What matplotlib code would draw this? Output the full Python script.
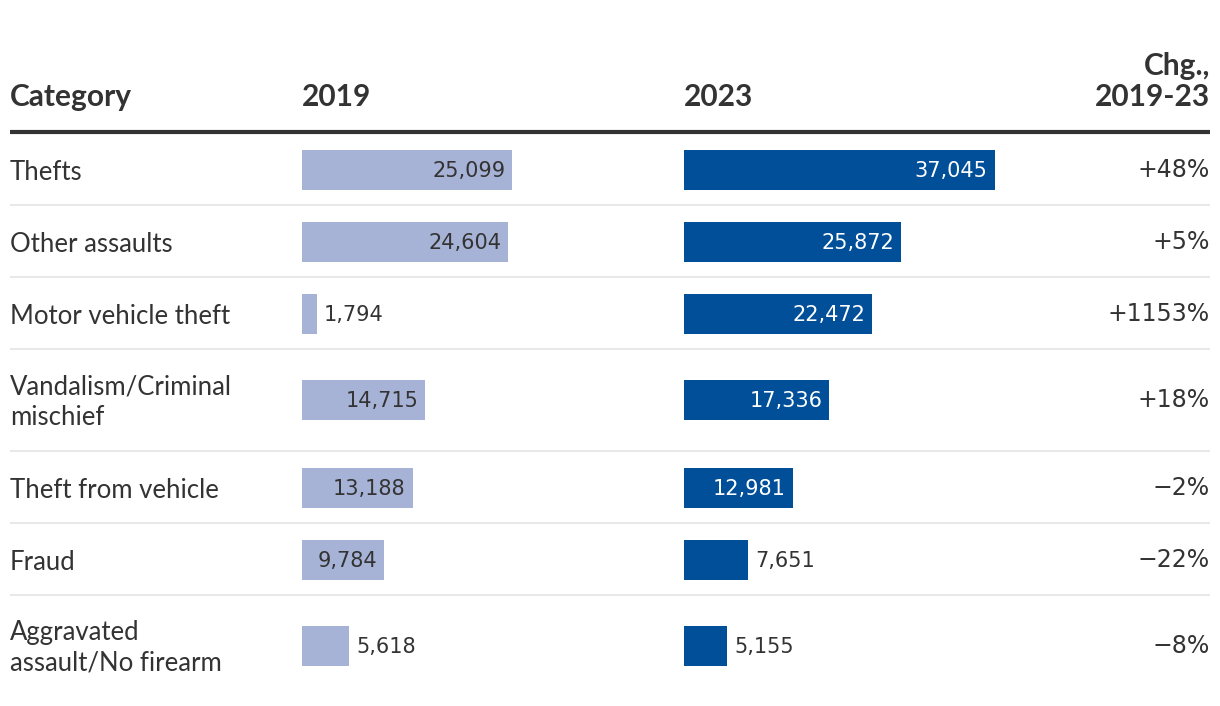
import matplotlib
matplotlib.use("Agg")
import matplotlib.pyplot as plt

# data
categories = [
    "Thefts",
    "Other assaults",
    "Motor vehicle theft",
    "Vandalism/Criminal\nmischief",
    "Theft from vehicle",
    "Fraud",
    "Aggravated\nassault/No firearm",
]
v2019 = [25099, 24604, 1794, 14715, 13188, 9784, 5618]
v2023 = [37045, 25872, 22472, 17336, 12981, 7651, 5155]
change = ["+48%", "+5%", "+1153%", "+18%", "\u22122%", "\u221222%", "\u22128%"]
headers = ["Category", "2019", "2023", "Chg.,\n2019-23"]

# layout (pixels)
W, H = 1220, 706
row_y = [170, 242, 314, 400, 488, 560, 646]
sep_y = [205, 277, 349, 451, 523, 595]
UNITS_PER_PX = 119.3
BAR_H = 40
C19 = "#a7b3d6"
C23 = "#004f98"
DARK = "#333333"
LABEL_FONT = "Lato"
NUM_FONT = "DejaVu Sans"

fig = plt.figure(figsize=(W / 100, H / 100), dpi=100)
ax = fig.add_axes([0, 0, 1, 1])
ax.set_xlim(0, W)
ax.set_ylim(H, 0)
ax.axis("off")

# headers
hdr = dict(fontsize=21.5, fontweight="bold", color=DARK, family=LABEL_FONT, va="baseline")
ax.text(10, 106, headers[0], ha="left", **hdr)
ax.text(302, 106, headers[1], ha="left", **hdr)
ax.text(684, 106, headers[2], ha="left", **hdr)
ax.text(1210, 106, headers[3], ha="right", multialignment="right", linespacing=1.15, **hdr)
ax.plot([10, 1210], [132, 132], color=DARK, lw=3, solid_capstyle="butt")

for y in sep_y:
    ax.plot([10, 1210], [y, y], color="#e8e8e8", lw=1.5, solid_capstyle="butt")

for y, cat, chg in zip(row_y, categories, change):
    ax.text(10, y + 2, cat, ha="left", va="center", fontsize=18.5, color=DARK,
            family=LABEL_FONT, linespacing=1.3)
    ax.text(1210, y, chg, ha="right", va="center", fontsize=17, color=DARK,
            family=NUM_FONT)


def bar_column(left_px, values, color, inside_color):
    width_px = 360
    bax = fig.add_axes([left_px / W, 0, width_px / W, 1])
    bax.set_xlim(0, width_px * UNITS_PER_PX)
    bax.set_ylim(H, 0)
    bax.axis("off")
    bax.barh(row_y, values, height=BAR_H, color=color, linewidth=0)
    pad = 7 * UNITS_PER_PX
    for y, v in zip(row_y, values):
        txt = f"{v:,}"
        if v >= 9000:
            bax.text(v - pad, y + 1, txt, ha="right", va="center", fontsize=15,
                     color=inside_color, family=NUM_FONT)
        else:
            bax.text(v + pad, y + 1, txt, ha="left", va="center", fontsize=15,
                     color=DARK, family=NUM_FONT)


bar_column(302, v2019, C19, DARK)
bar_column(684, v2023, C23, "white")

fig.savefig("out.png", dpi=100, facecolor="white")
